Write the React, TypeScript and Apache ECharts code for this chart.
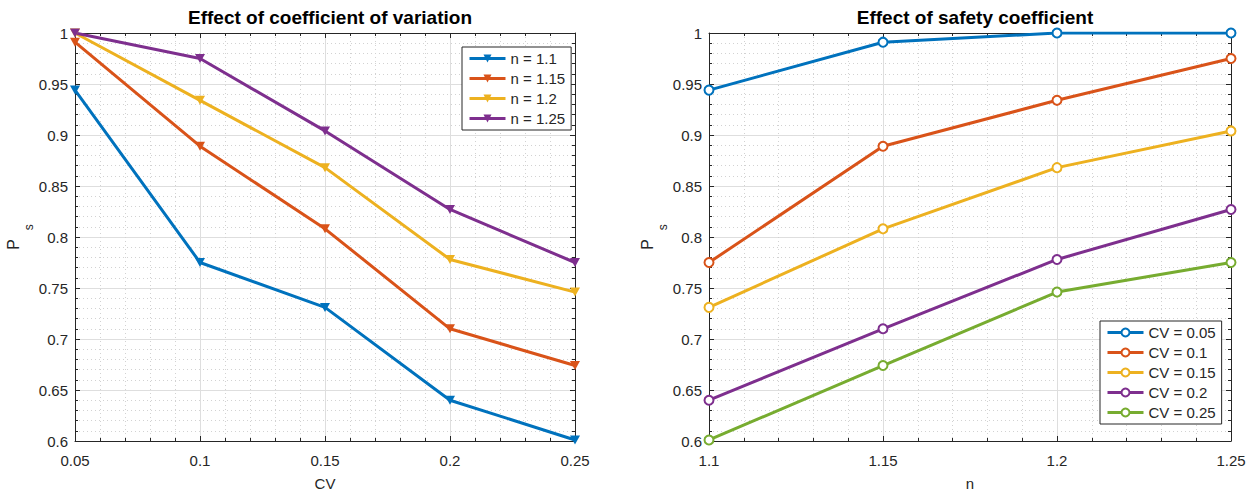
import React, { useEffect, useRef } from "react";
import * as echarts from "echarts";

const cvValues = [0.05, 0.1, 0.15, 0.2, 0.25];
const nValues = [1.1, 1.15, 1.2, 1.25];
const nLabels = ["n = 1.1", "n = 1.15", "n = 1.2", "n = 1.25"];
const cvLabels = ["CV = 0.05", "CV = 0.1", "CV = 0.15", "CV = 0.2", "CV = 0.25"];

// Ps by safety coefficient n (rows) across CV (columns)
const psN110 = [0.944, 0.775, 0.731, 0.64, 0.601];
const psN115 = [0.991, 0.889, 0.808, 0.71, 0.674];
const psN120 = [1.0, 0.934, 0.868, 0.778, 0.746];
const psN125 = [1.0, 0.975, 0.904, 0.827, 0.775];
const psRows = [psN110, psN115, psN120, psN125];

const yTicksMin = 0.6;
const yTicksMax = 1;

const leftColors = ["#0072BD", "#D95319", "#EDB120", "#7E2F8E"];
const rightColors = ["#0072BD", "#D95319", "#EDB120", "#7E2F8E", "#77AC30"];

const FONT = "Liberation Sans, Arial, Helvetica, sans-serif";
const TXT = "#262626";

const downTri = "path://M0,0 L10,0 L5,9 Z";

export default function App() {
  const ref = useRef<HTMLDivElement>(null);
  useEffect(() => {
    if (!ref.current) return;
    const chart = echarts.init(ref.current, undefined, { renderer: "svg" });

    const mainAxisLine = { show: true, onZero: false, lineStyle: { color: TXT, width: 1 } };
    const tickInside = { show: true, inside: true, length: 5, lineStyle: { color: TXT } };
    const minorTick = { show: true, splitNumber: 5, length: 3, lineStyle: { color: TXT } };
    const splitLine = { show: true, lineStyle: { color: "#dedede", width: 1 } };
    const minorSplit = { show: true, lineStyle: { color: "#d2d2d2", type: [1, 3], width: 1 } };
    const labelStyle = { color: TXT, fontSize: 15, fontFamily: FONT };

    const xMain = (gridIndex: number, min: number, max: number, name: string) => ({
      type: "value",
      gridIndex,
      min,
      max,
      interval: 0.05,
      position: "bottom",
      name,
      nameLocation: "middle",
      nameGap: 35,
      nameTextStyle: { color: TXT, fontSize: 15, fontFamily: FONT },
      axisLine: mainAxisLine,
      axisTick: tickInside,
      minorTick,
      axisLabel: { ...labelStyle, margin: 12 },
      splitLine,
      minorSplitLine: minorSplit,
    });
    const xTop = (gridIndex: number, min: number, max: number) => ({
      type: "value",
      gridIndex,
      min,
      max,
      interval: 0.05,
      position: "top",
      axisLine: mainAxisLine,
      axisTick: tickInside,
      minorTick,
      axisLabel: { show: false },
      splitLine: { show: false },
    });
    const yName = {
      name: "{p|P}{s|s}",
      nameLocation: "middle",
      nameRotate: 90,
      nameTextStyle: {
        color: TXT,
        fontFamily: FONT,
        rich: {
          p: { fontSize: 16, lineHeight: 16, verticalAlign: "top", color: TXT, fontFamily: FONT },
          s: {
            fontSize: 12,
            lineHeight: 29,
            verticalAlign: "bottom",
            color: TXT,
            fontFamily: FONT,
            padding: [0, 0, 0, 9],
          },
        },
      },
    };
    const yMain = (gridIndex: number, gap: number) => ({
      type: "value",
      gridIndex,
      min: yTicksMin,
      max: yTicksMax,
      interval: 0.05,
      position: "left",
      ...yName,
      nameGap: gap,
      axisLine: mainAxisLine,
      axisTick: tickInside,
      minorTick,
      axisLabel: { ...labelStyle, margin: 7 },
      splitLine,
      minorSplitLine: minorSplit,
    });
    const yRight = (gridIndex: number) => ({
      type: "value",
      gridIndex,
      min: yTicksMin,
      max: yTicksMax,
      interval: 0.05,
      position: "right",
      axisLine: mainAxisLine,
      axisTick: tickInside,
      minorTick,
      axisLabel: { show: false },
      splitLine: { show: false },
    });

    const leftSeries = psRows.map((row, i) => ({
      type: "line",
      name: nLabels[i],
      xAxisIndex: 0,
      yAxisIndex: 0,
      data: cvValues.map((cv, j) => [cv, row[j]]),
      symbol: downTri,
      symbolSize: [10, 9],
      showSymbol: true,
      lineStyle: { width: 3, color: leftColors[i] },
      itemStyle: { color: leftColors[i] },
      emphasis: { disabled: true },
    }));

    const rightSeries = cvValues.map((_, j) => ({
      type: "line",
      name: cvLabels[j],
      xAxisIndex: 2,
      yAxisIndex: 2,
      data: nValues.map((n, i) => [n, psRows[i][j]]),
      symbol: "emptyCircle",
      symbolSize: 9,
      showSymbol: true,
      lineStyle: { width: 3, color: rightColors[j] },
      itemStyle: { color: rightColors[j], borderWidth: 2.5 },
      emphasis: { disabled: true },
    }));

    const legendBase = {
      orient: "vertical",
      backgroundColor: "#fff",
      borderColor: TXT,
      borderWidth: 1,
      itemWidth: 36,
      itemHeight: 10,
      itemGap: 5,
      lineStyle: { width: 3 },
      textStyle: { color: TXT, fontSize: 15, fontFamily: FONT },
    };

    chart.setOption({
      animation: false,
      backgroundColor: "#fff",
      title: [
        {
          text: "Effect of coefficient of variation",
          left: 325,
          top: 3,
          textAlign: "center",
          textStyle: { fontSize: 19, fontWeight: "bold", color: "#000", fontFamily: FONT },
        },
        {
          text: "Effect of safety coefficient",
          left: 970,
          top: 3,
          textAlign: "center",
          textStyle: { fontSize: 19, fontWeight: "bold", color: "#000", fontFamily: FONT },
        },
      ],
      grid: [
        { left: 75, right: 681, top: 33, bottom: 52, outerBoundsMode: "none", containLabel: false },
        { left: 709, right: 25, top: 33, bottom: 52, outerBoundsMode: "none", containLabel: false },
      ],
      xAxis: [
        xMain(0, 0.05, 0.25, "CV"),
        xTop(0, 0.05, 0.25),
        xMain(1, 1.1, 1.25, "n"),
        xTop(1, 1.1, 1.25),
      ],
      yAxis: [yMain(0, 22), yRight(0), yMain(1, 29), yRight(1)],
      legend: [
        {
          ...legendBase,
          data: nLabels,
          left: 462,
          top: 47,
          padding: [4, 6, 4, 6],
        },
        {
          ...legendBase,
          data: cvLabels,
          left: 1100,
          top: 321,
          padding: [4, 6, 4, 6],
        },
      ],
      series: [...leftSeries, ...rightSeries],
    });

    return () => chart.dispose();
  }, []);

  return (
    <div
      ref={ref}
      style={{ position: "fixed", left: 0, top: 0, width: 1256, height: 493 }}
    />
  );
}
